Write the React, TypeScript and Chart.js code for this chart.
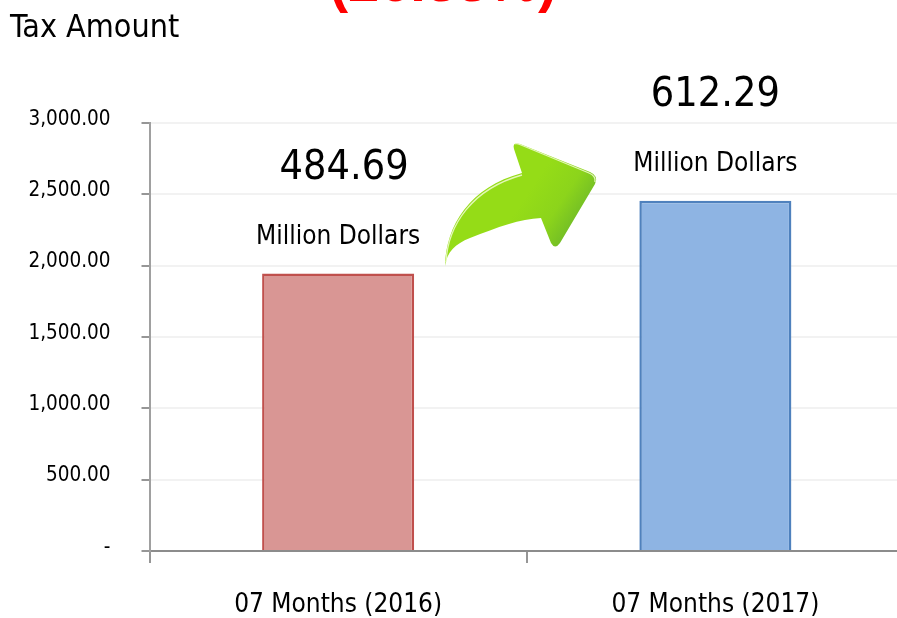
import React, { useEffect, useRef } from "react";
import { Chart, registerables } from "chart.js";

Chart.register(...registerables);

const categories = ["07 Months (2016)", "07 Months (2017)"];
const taxValues = [1945, 2455];
const amountLabels = ["484.69", "612.29"];
const unitLabels = ["Million Dollars", "Million Dollars"];
const fillColors = ["#d99694", "#8eb4e3"];
const borderColors = ["#c0504d", "#4f81bd"];
const yTicks = [0, 500, 1000, 1500, 2000, 2500, 3000];
const yTickLabels = ["-", "500.00", "1,000.00", "1,500.00", "2,000.00", "2,500.00", "3,000.00"];
const axisTitle = "Tax Amount";
const headline = "(26.33%)";

const FONT = '"DejaVu Sans Condensed", "DejaVu Sans", sans-serif';

const annotations = {
  id: "annotations",
  afterDatasetsDraw(chart: any) {
    const { ctx, scales } = chart;
    ctx.save();
    ctx.textAlign = "center";
    ctx.textBaseline = "alphabetic";

    // Clipped headline
    ctx.fillStyle = "#ff0000";
    ctx.font = `bold 56px "Liberation Sans", sans-serif`;
    ctx.fillText(headline, 443, 1);

    // Axis caption
    ctx.fillStyle = "#000";
    ctx.textAlign = "left";
    ctx.font = `32px ${FONT}`;
    ctx.fillText(axisTitle, 10, 37);

    // Labels above bars
    ctx.textAlign = "center";
    const amountShift = [6, 0];
    taxValues.forEach((v, i) => {
      const x = scales.x.getPixelForValue(i);
      const top = scales.y.getPixelForValue(v);
      ctx.font = `26px ${FONT}`;
      ctx.fillText(unitLabels[i], x, top - 30);
      ctx.font = `41px ${FONT}`;
      ctx.fillText(amountLabels[i], x + amountShift[i], top - 95);
    });

    // Decorative arrow
    const shape = new Path2D(
      "M445 266 C446 225 470 187 522 173 L514 149 Q512 142 520 144 L590 172 Q599 176 595 184 L560 243 Q555 250 551 243 L541 218 C520 219 498 227 470 238 C455 244 447 252 445 266 Z"
    );
    const g = ctx.createLinearGradient(530, 190, 590, 230);
    g.addColorStop(0, "#95dc17");
    g.addColorStop(0.45, "#8cd41b");
    g.addColorStop(1, "#62af2d");
    ctx.fillStyle = g;
    ctx.fill(shape);
    ctx.strokeStyle = "rgba(235,250,200,0.9)";
    ctx.lineWidth = 1.3;
    ctx.stroke(new Path2D("M446 262 C448 225 472 189 522 175"));
    ctx.stroke(new Path2D("M515 144 Q516 143 521 145 L589 173 Q596 176 595 182"));
    ctx.restore();
  },
};

export default function App() {
  const ref = useRef<HTMLCanvasElement>(null);
  useEffect(() => {
    document.body.style.margin = "0";
    const chart = new Chart(ref.current!, {
      type: "bar",
      data: {
        labels: categories,
        datasets: [
          {
            data: taxValues,
            backgroundColor: fillColors,
            borderColor: borderColors,
            borderWidth: 2.5,
            barPercentage: 0.403,
            categoryPercentage: 1,
          },
        ],
      },
      plugins: [annotations],
      options: {
        responsive: false,
        animation: false,
        layout: { padding: { top: 123, right: 0, bottom: 0, left: 0 } },
        plugins: { legend: { display: false }, title: { display: false }, tooltip: { enabled: false } },
        scales: {
          x: {
            afterFit(scale: any) {
              scale.height = 67;
            },
            grid: { drawOnChartArea: false, offset: true, tickLength: 12, tickColor: "#969696", tickWidth: 2, lineWidth: 2 },
            border: { color: "#8c8c8c", width: 2 },
            ticks: { color: "#000", font: { family: FONT, size: 26 }, padding: 27, maxRotation: 0 },
          },
          y: {
            min: 0,
            max: 3000,
            afterFit(scale: any) {
              scale.width = 149.5;
            },
            afterBuildTicks(scale: any) {
              scale.ticks = yTicks.map((value) => ({ value }));
            },
            grid: { color: "#f2f2f2", lineWidth: 2, tickLength: 8, tickColor: "#969696", tickWidth: 2 },
            border: { color: "#a0a0a0", width: 2 },
            ticks: {
              color: "#000",
              font: { family: FONT, size: 20.5, lineHeight: 0.35 },
              padding: 31,
              callback: (v: any) => [yTickLabels[yTicks.indexOf(Number(v))], ""],
            },
          },
        },
      },
    } as any);
    return () => chart.destroy();
  }, []);
  return (
    <div style={{ position: "absolute", left: 0, top: 0, width: 897, height: 618, overflow: "hidden", background: "#fff" }}>
      <canvas ref={ref} width={904} height={618} style={{ display: "block" }} />
    </div>
  );
}
